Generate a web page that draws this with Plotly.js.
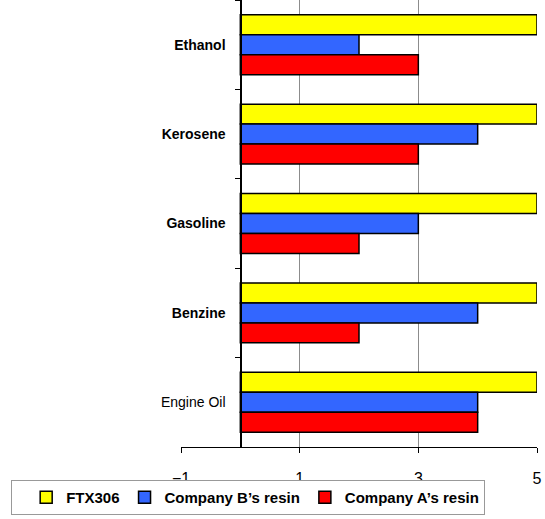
<!DOCTYPE html>
<html><head><meta charset="utf-8">
<script src="https://cdn.plot.ly/plotly-3.0.1.min.js"></script>
<style>html,body{margin:0;padding:0;background:#fff;overflow:hidden}#chart{width:545px;height:519px}</style>
</head><body><div id="chart"></div>
<script>
const categories = ["Ethanol", "Kerosene", "Gasoline", "Benzine", "Engine Oil"];
const categoryLabels = ["<b>Ethanol</b>", "<b>Kerosene</b>", "<b>Gasoline</b>", "<b>Benzine</b>", "Engine Oil"];
const seriesNames = ["FTX306", "Company B’s resin", "Company A’s resin"];
const ftx306 = [5, 5, 5, 5, 5];
const companyB = [2, 4, 3, 4, 4];
const companyA = [3, 3, 2, 2, 4];
const xTicks = [-1, 1, 3, 5];
const titleText = "Chemical Resistance Test";

const FONT = "Liberation Sans, Arial, sans-serif";
const colors = ["#FFFF00", "#3366FF", "#FF0000"];
const values = [ftx306, companyB, companyA];

const traces = values.map((v, i) => ({
  type: "bar",
  orientation: "h",
  name: seriesNames[i],
  x: v,
  y: categories,
  marker: {color: colors[i], line: {color: "#000", width: 1.5}},
  hoverinfo: "x+name"
}));

const layout = {
  width: 545, height: 519,
  margin: {l: 181, r: 8, t: 0, b: 72, pad: 0},
  paper_bgcolor: "#fff", plot_bgcolor: "#fff",
  barmode: "group", bargap: 0.33, bargroupgap: 0,
  font: {family: FONT, color: "#000"},
  showlegend: true,
  xaxis: {
    range: [-1, 5], tickvals: xTicks, showgrid: true, gridcolor: "#8c8c8c", gridwidth: 1,
    zeroline: false, showline: true, linecolor: "#000", linewidth: 1,
    ticks: "outside", ticklen: 5, tickcolor: "#000", tickwidth: 1,
    ticklabelstandoff: 12,
    tickfont: {size: 16, color: "#000", family: FONT}
  },
  yaxis: {
    type: "category", categoryorder: "array", categoryarray: categories,
    autorange: "reversed", tickvals: categories, ticktext: categoryLabels,
    anchor: "free", position: 1 / 6,
    showline: true, linecolor: "#000", linewidth: 1.5,
    ticks: "outside", tickson: "boundaries", ticklen: 5, tickcolor: "#000", tickwidth: 1,
    ticklabelstandoff: 12,
    showgrid: false, zeroline: false,
    tickfont: {size: 14, color: "#000", family: FONT}
  },
  legend: {
    orientation: "h", traceorder: "normal",
    x: -0.4775, xanchor: "left", y: -0.074, yanchor: "top",
    bgcolor: "#fff", bordercolor: "#999", borderwidth: 1,
    title: {text: "\u00a0", side: "left", font: {size: 15}},
    font: {size: 15, family: FONT, color: "#000", weight: "bold"}
  },
  annotations: [{
    text: titleText, xref: "paper", yref: "paper",
    x: -0.368, xanchor: "left", y: 1, yanchor: "bottom", yshift: -5.5,
    showarrow: false, font: {size: 20, color: "#000", family: FONT}
  }]
};

Plotly.newPlot("chart", traces, layout, {displayModeBar: false, staticPlot: true});
</script>
</body></html>
